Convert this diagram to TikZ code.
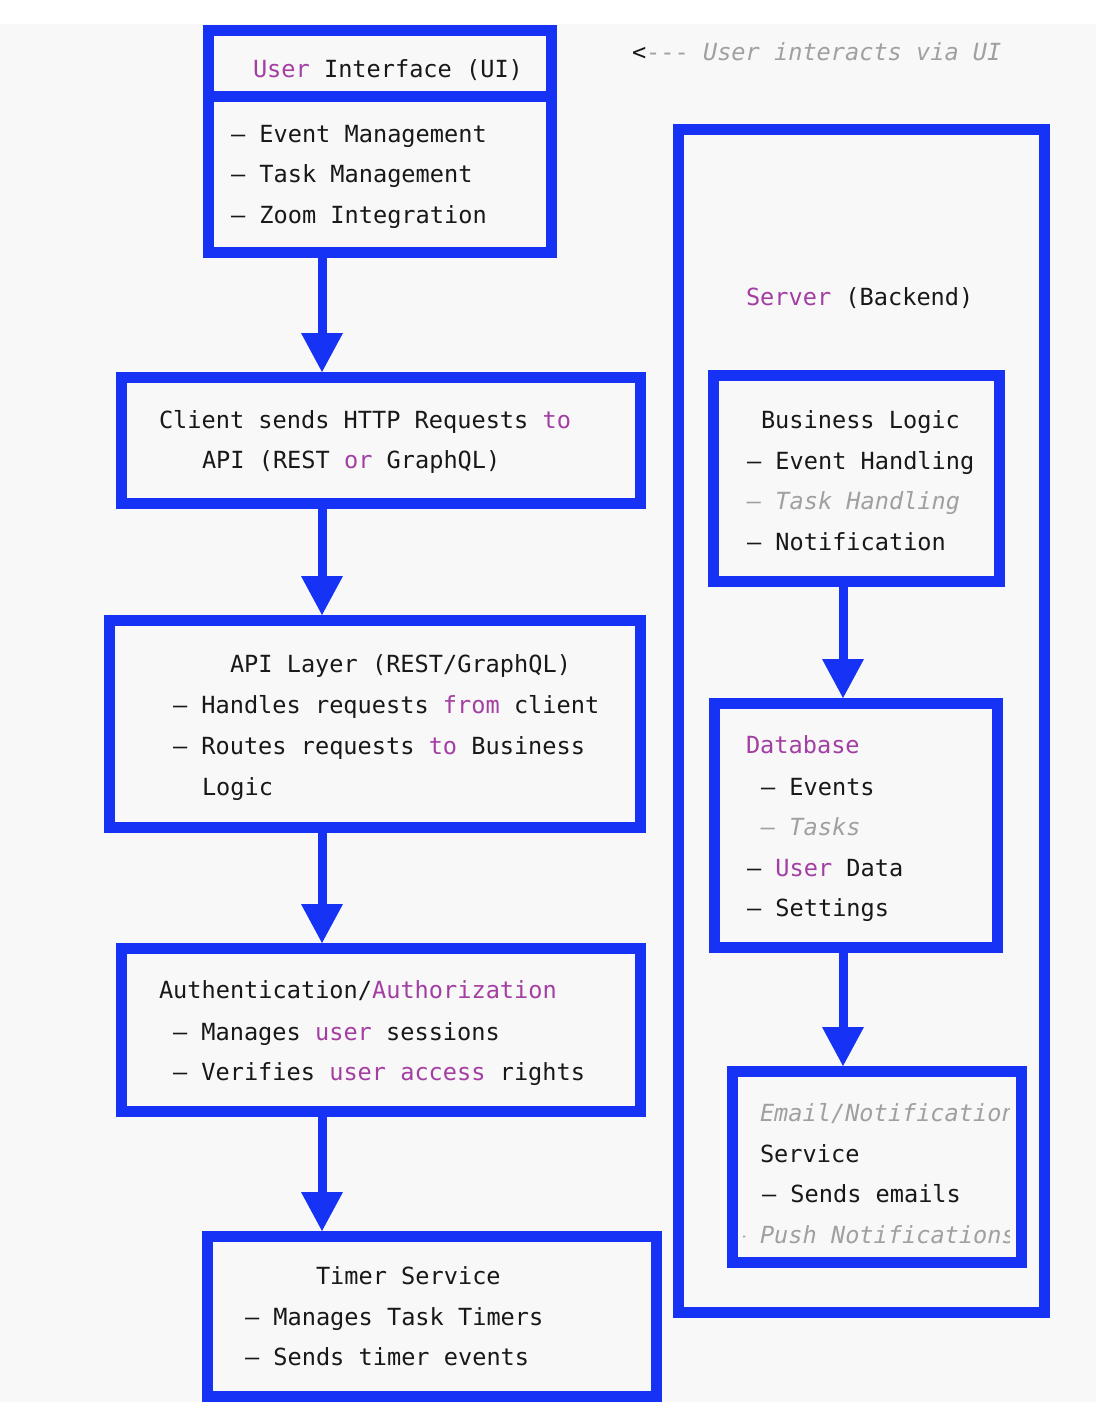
\documentclass[tikz,border=0pt]{standalone}
\usepackage{fontspec}
\setmonofont{DejaVu Sans Mono}
\usetikzlibrary{arrows.meta}
\definecolor{bblue}{RGB}{22,51,245}
\definecolor{ppl}{RGB}{163,62,163}
\definecolor{gtx}{RGB}{160,160,160}
\definecolor{btx}{RGB}{24,24,24}
\definecolor{bgc}{RGB}{248,248,248}
\newcommand{\pp}[1]{\textcolor{ppl}{#1}}
\begin{document}
\begin{tikzpicture}[x=1pt,y=-1pt,
  box/.style={draw=bblue, line width=11pt, rectangle, inner sep=0pt, outer sep=5.5pt},
  txt/.style={anchor=base west, inner sep=0pt, outer sep=0pt, text=btx,
              font=\ttfamily\fontsize{23.6}{28}\selectfont},
  gray txt/.style={txt, text=gtx, font=\ttfamily\itshape\fontsize{23.6}{28}\selectfont},
  arr/.style={draw=bblue, line width=9pt, -{Triangle[width=42pt,length=39pt,line width=0pt]}}
]
\useasboundingbox (0,0) rectangle (1096,1416);
\fill[white] (0,0) rectangle (1096,1416);
\fill[bgc] (0,24) rectangle (1096,1402);

% boxes
\node[box, minimum width=343pt, minimum height=66pt] (uihead) at (380,63) {};
\node[box, minimum width=343pt, minimum height=156.5pt] (uibody) at (380,174.25) {};
\node[box, minimum width=519pt, minimum height=126pt] (client) at (381,440.5) {};
\node[box, minimum width=531pt, minimum height=207pt] (api) at (375,724) {};
\node[box, minimum width=519pt, minimum height=163pt] (auth) at (381,1030) {};
\node[box, minimum width=449pt, minimum height=160pt] (timer) at (432,1316.5) {};
\node[box, minimum width=366pt, minimum height=1183pt] (server) at (861.5,721) {};
\node[box, minimum width=286pt, minimum height=206pt] (logic) at (856.5,478.5) {};
\node[box, minimum width=283pt, minimum height=244pt] (db) at (856,825.5) {};
\node[box, minimum width=289pt, minimum height=191pt] (email) at (877,1167) {};

% connectors
\coordinate (lspine) at (322,0);
\coordinate (rspine) at (843,0);
\draw[arr] (uibody.south -| lspine) -- (client.north -| lspine);
\draw[arr] (client.south -| lspine) -- (api.north -| lspine);
\draw[arr] (api.south -| lspine) -- (auth.north -| lspine);
\draw[arr] (auth.south -| lspine) -- (timer.north -| lspine);
\draw[arr] (logic.south -| rspine) -- (db.north -| rspine);
\draw[arr] (db.south -| rspine) -- (email.north -| rspine);

% texts: UI
\node[txt] (t-ui) at (253,77) {\pp{User} Interface (UI)};
\node[txt] (t-ui1) at (231,142) {– Event Management};
\node[txt] (t-ui2) at (231,182) {– Task Management};
\node[txt] (t-ui3) at (231,223) {– Zoom Integration};
\node[txt] (t-note) at (632,60) {<\textcolor{gtx}{-{}-{}-\itshape{} User interacts via UI}};

% client
\node[txt] (t-c1) at (159,428) {Client sends HTTP Requests \pp{to}};
\node[txt] (t-c2) at (202,468) {API (REST \pp{or} GraphQL)};

% api
\node[txt] (t-a0) at (230,672) {API Layer (REST/GraphQL)};
\node[txt] (t-a1) at (173,713) {– Handles requests \pp{from} client};
\node[txt] (t-a2) at (173,754) {– Routes requests \pp{to} Business};
\node[txt] (t-a3) at (202,795) {Logic};

% auth
\node[txt] (t-u0) at (159,998) {Authentication/\pp{Authorization}};
\node[txt] (t-u1) at (173,1040) {– Manages \pp{user} sessions};
\node[txt] (t-u2) at (173,1080) {– Verifies \pp{user access} rights};

% timer
\node[txt] (t-t0) at (316,1284) {Timer Service};
\node[txt] (t-t1) at (245,1325) {– Manages Task Timers};
\node[txt] (t-t2) at (245,1365) {– Sends timer events};

% server
\node[txt] (t-s) at (746,305) {\pp{Server} (Backend)};

% business logic
\node[txt] (t-b0) at (761,428) {Business Logic};
\node[txt] (t-b1) at (747,469) {– Event Handling};
\node[gray txt] (t-b2) at (747,509) {– Task Handling};
\node[txt] (t-b3) at (747,550) {– Notification};

% database
\node[txt] (t-d0) at (746,753) {\pp{Database}};
\node[txt] (t-d1) at (761,795) {– Events};
\node[gray txt] (t-d2) at (761,835) {– Tasks};
\node[txt] (t-d3) at (747,876) {– \pp{User} Data};
\node[txt] (t-d4) at (747,916) {– Settings};

% email
\begin{scope}
\clip ([xshift=16pt,yshift=-11pt]email.north west) rectangle ([xshift=-18pt,yshift=11pt]email.south east);
\node[gray txt] (t-e0) at (760,1121) {Email/Notification};
\node[txt] (t-e1) at (760,1162) {Service};
\node[txt] (t-e2) at (762,1202) {– Sends emails};
\node[gray txt] (t-e3) at (731.6,1243) {– Push Notifications};
\end{scope}
\end{tikzpicture}
\end{document}
